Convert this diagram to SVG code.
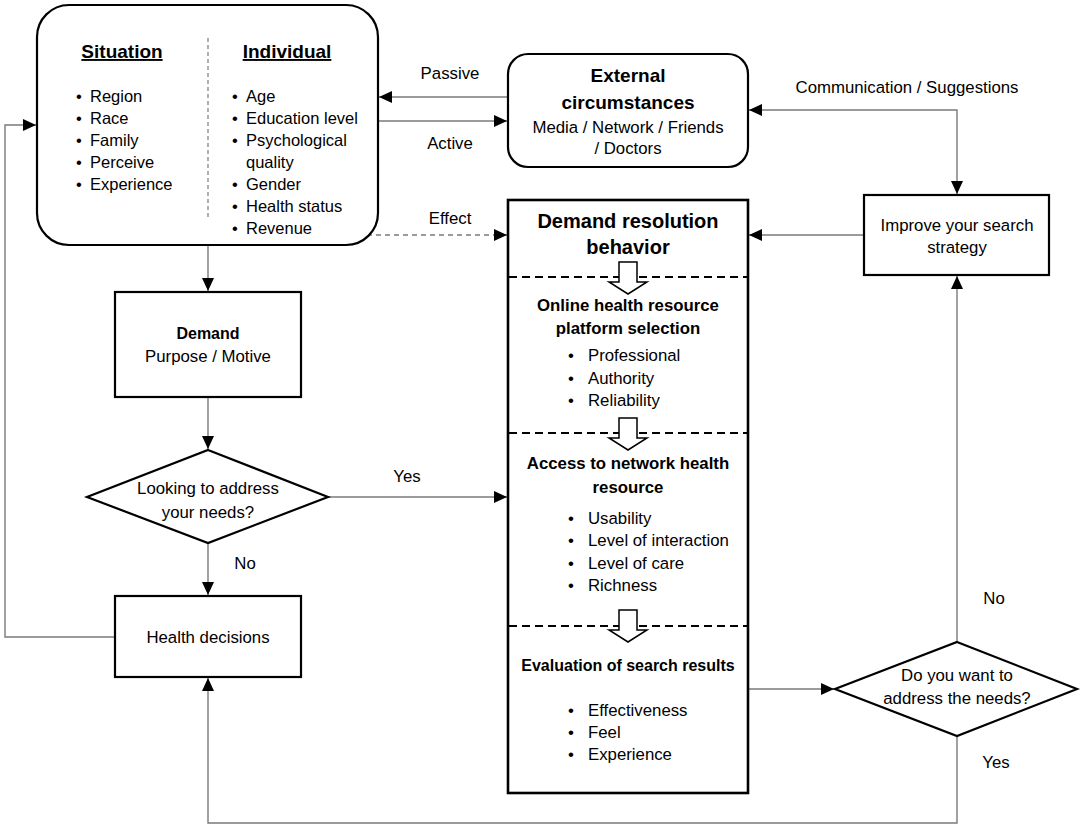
<svg xmlns="http://www.w3.org/2000/svg" width="1084" height="828" viewBox="0 0 1084 828">
<defs>
<style>
text{font-family:"Liberation Sans",Arial,sans-serif;font-size:16.8px;fill:#000}
.c{text-anchor:middle}
.b{font-weight:bold}
.box{fill:#fff;stroke:#000;stroke-width:2.2}
.con{fill:none;stroke:#7a7a7a;stroke-width:1.4}
.dash{fill:none;stroke:#000;stroke-width:2;stroke-dasharray:8 5}
.blk{fill:#fff;stroke:#000;stroke-width:1.5}
.li{font-size:16.5px}
.h2{font-weight:bold;font-size:16.8px}
</style>
<marker id="ah" markerUnits="userSpaceOnUse" markerWidth="14" markerHeight="12" refX="13" refY="6" orient="auto">
<path d="M0,0 L13,6 L0,12 Z" fill="#000"/>
</marker>
<marker id="ahs" markerUnits="userSpaceOnUse" markerWidth="14" markerHeight="12" refX="0" refY="6" orient="auto">
<path d="M13,0 L0,6 L13,12 Z" fill="#000"/>
</marker>
</defs>
<rect width="1084" height="828" fill="#fff"/>

<g id="connectors">
<line class="con" x1="508" y1="97" x2="379" y2="97" marker-end="url(#ah)"/>
<line class="con" x1="378" y1="121" x2="507" y2="121" marker-end="url(#ah)"/>
<path class="con" d="M749,110 H957 V194" marker-start="url(#ahs)" marker-end="url(#ah)"/>
<line class="con" x1="864" y1="235" x2="749" y2="235" marker-end="url(#ah)"/>
<line x1="367" y1="235" x2="507" y2="235" stroke="#7a7a7a" stroke-width="1.4" stroke-dasharray="5 4" marker-end="url(#ah)"/>
<line class="con" x1="208" y1="245" x2="208" y2="291" marker-end="url(#ah)"/>
<line class="con" x1="208" y1="397" x2="208" y2="449" marker-end="url(#ah)"/>
<line class="con" x1="328" y1="497" x2="507" y2="497" marker-end="url(#ah)"/>
<line class="con" x1="208" y1="543" x2="208" y2="595" marker-end="url(#ah)"/>
<path class="con" d="M115,637 H5 V125 H36" marker-end="url(#ah)"/>
<line class="con" x1="748" y1="689" x2="834" y2="689" marker-end="url(#ah)"/>
<line class="con" x1="957" y1="642" x2="957" y2="276" marker-end="url(#ah)"/>
<path class="con" d="M957,736 V823 H208 V678" marker-end="url(#ah)"/>
<text class="c" x="450" y="79">Passive</text>
<text class="c" x="450" y="149">Active</text>
<text class="c" x="450" y="224">Effect</text>
<text class="c" x="907" y="93">Communication / Suggestions</text>
<text class="c" x="407" y="482">Yes</text>
<text class="c" x="245" y="569">No</text>
<text class="c" x="994" y="604">No</text>
<text class="c" x="996" y="768">Yes</text>
</g>

<g id="node-person">
<rect class="box" x="37" y="5" width="341" height="240" rx="32"/>
<line x1="208" y1="38" x2="208" y2="218" stroke="#7a7a7a" stroke-width="1.2" stroke-dasharray="4 3"/>
<text class="c b" x="122" y="58" style="font-size:19px" text-decoration="underline">Situation</text>
<text class="c b" x="287" y="58" style="font-size:19px" text-decoration="underline">Individual</text>
<text class="li" y="102"><tspan x="76">•</tspan><tspan x="90">Region</tspan></text>
<text class="li" y="124"><tspan x="76">•</tspan><tspan x="90">Race</tspan></text>
<text class="li" y="146"><tspan x="76">•</tspan><tspan x="90">Family</tspan></text>
<text class="li" y="168"><tspan x="76">•</tspan><tspan x="90">Perceive</tspan></text>
<text class="li" y="190"><tspan x="76">•</tspan><tspan x="90">Experience</tspan></text>
<text class="li" y="102"><tspan x="232">•</tspan><tspan x="246">Age</tspan></text>
<text class="li" y="124"><tspan x="232">•</tspan><tspan x="246">Education level</tspan></text>
<text class="li" y="146"><tspan x="232">•</tspan><tspan x="246">Psychological</tspan></text>
<text class="li" y="168" x="246">quality</text>
<text class="li" y="190"><tspan x="232">•</tspan><tspan x="246">Gender</tspan></text>
<text class="li" y="212"><tspan x="232">•</tspan><tspan x="246">Health status</tspan></text>
<text class="li" y="234"><tspan x="232">•</tspan><tspan x="246">Revenue</tspan></text>
</g>

<g id="node-external">
<rect class="box" x="508" y="54" width="240" height="113" rx="20"/>
<text class="c b" x="628" y="82" style="font-size:19px">External</text>
<text class="c b" x="628" y="109" style="font-size:19px">circumstances</text>
<text class="c" x="628" y="133">Media / Network / Friends</text>
<text class="c" x="628" y="154">/ Doctors</text>
</g>

<g id="node-improve">
<rect class="box" x="864" y="195" width="185" height="80"/>
<text class="c" x="957" y="231">Improve your search</text>
<text class="c" x="957" y="253">strategy</text>
</g>

<g id="node-resolution">
<rect class="box" x="508" y="200" width="240" height="593" style="stroke-width:2.6"/>
<text class="c b" x="628" y="228" style="font-size:20px">Demand resolution</text>
<text class="c b" x="628" y="254" style="font-size:20px">behavior</text>
<line class="dash" x1="509" y1="277" x2="747" y2="277"/>
<polygon class="blk" points="619,262 637,262 637,282 647,282 628,294 609,282 619,282"/>
<text class="c h2" x="628" y="311">Online health resource</text>
<text class="c h2" x="628" y="334">platform selection</text>
<text y="361"><tspan x="568">•</tspan><tspan x="588">Professional</tspan></text>
<text y="384"><tspan x="568">•</tspan><tspan x="588">Authority</tspan></text>
<text y="406"><tspan x="568">•</tspan><tspan x="588">Reliability</tspan></text>
<line class="dash" x1="509" y1="433" x2="747" y2="433"/>
<polygon class="blk" points="619,418 637,418 637,438 647,438 628,450 609,438 619,438"/>
<text class="c h2" x="628" y="469">Access to network health</text>
<text class="c h2" x="628" y="493">resource</text>
<text y="524"><tspan x="568">•</tspan><tspan x="588">Usability</tspan></text>
<text y="546"><tspan x="568">•</tspan><tspan x="588">Level of interaction</tspan></text>
<text y="569"><tspan x="568">•</tspan><tspan x="588">Level of care</tspan></text>
<text y="591"><tspan x="568">•</tspan><tspan x="588">Richness</tspan></text>
<line class="dash" x1="509" y1="626" x2="747" y2="626"/>
<polygon class="blk" points="619,610 637,610 637,630 647,630 628,642 609,630 619,630"/>
<text class="c b" x="628" y="671" style="font-size:16px">Evaluation of search results</text>
<text y="716"><tspan x="568">•</tspan><tspan x="588">Effectiveness</tspan></text>
<text y="738"><tspan x="568">•</tspan><tspan x="588">Feel</tspan></text>
<text y="760"><tspan x="568">•</tspan><tspan x="588">Experience</tspan></text>
</g>

<g id="node-demand">
<rect class="box" x="115" y="292" width="186" height="105"/>
<text class="c b" x="208" y="339" style="font-size:16px">Demand</text>
<text class="c" x="208" y="362">Purpose / Motive</text>
</g>

<g id="node-looking">
<polygon class="box" points="208,450 328,497 208,543 87,497"/>
<text class="c" x="208" y="494">Looking to address</text>
<text class="c" x="208" y="518">your needs?</text>
</g>

<g id="node-health">
<rect class="box" x="115" y="596" width="186" height="81"/>
<text class="c" x="208" y="643">Health decisions</text>
</g>

<g id="node-want">
<polygon class="box" points="957,642 1077,689 957,736 835,689"/>
<text class="c" x="957" y="681">Do you want to</text>
<text class="c" x="957" y="704">address the needs?</text>
</g>
</svg>
